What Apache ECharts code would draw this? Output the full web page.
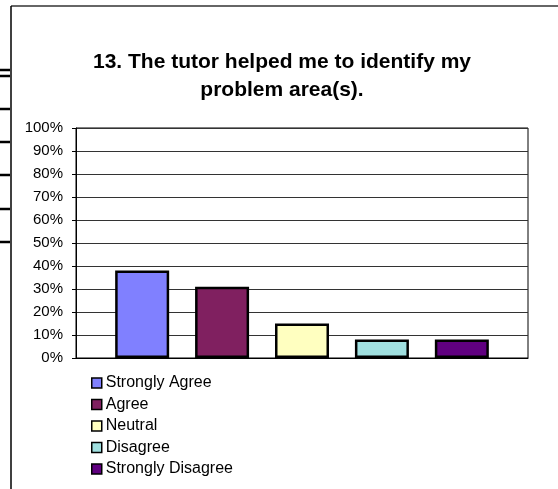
<!DOCTYPE html>
<html>
<head>
<meta charset="utf-8">
<script src="https://cdn.jsdelivr.net/npm/echarts@6/dist/echarts.min.js"></script>
<style>
    html, body { margin: 0; padding: 0; background: #fff; }
    #chart { width: 558px; height: 489px; }
</style>
</head>
<body>
<div id="chart"></div>
<script>
    // survey answers, one bar per answer
    var answers = ['Strongly Agree', 'Agree', 'Neutral', 'Disagree', 'Strongly Disagree'];
    var shares = [0.38, 0.31, 0.15, 0.08, 0.08];
    var colors = ['#8080FF', '#802060', '#FFFFC0', '#A0E0E0', '#600080'];
    var yTicks = [0, 0.1, 0.2, 0.3, 0.4, 0.5, 0.6, 0.7, 0.8, 0.9, 1];

    var myChart = echarts.init(document.getElementById('chart'));

    // leftover table lines on the left edge of the page
    var stubY = [70, 76, 109, 142, 175, 209, 242];
    var graphics = [
        { type: 'line', shape: { x1: 11, y1: 6, x2: 558, y2: 6 }, style: { stroke: '#333', lineWidth: 1.5 } },
        { type: 'line', shape: { x1: 11, y1: 6, x2: 11, y2: 489 }, style: { stroke: '#000', lineWidth: 1.5 } }
    ];
    stubY.forEach(function (y) {
        graphics.push({ type: 'line', shape: { x1: 0, y1: y, x2: 10, y2: y }, style: { stroke: '#000', lineWidth: 2.5 } });
    });

    var series = answers.map(function (name, i) {
        return {
            name: name,
            type: 'bar',
            data: [shares[i]],
            barWidth: 54,
            barGap: '48%',
            itemStyle: { color: colors[i], borderColor: '#000', borderWidth: 2.5 }
        };
    });

    myChart.setOption({
        animation: false,
        backgroundColor: '#fff',
        graphic: graphics,
        title: {
            text: '13. The tutor helped me to identify my\nproblem area(s).',
            left: 282,
            top: 48,
            padding: 0,
            textAlign: 'center',
            textStyle: {
                fontFamily: 'Liberation Sans, Arial, sans-serif',
                fontWeight: 'bold',
                fontSize: 21,
                lineHeight: 28,
                color: '#000'
            }
        },
        grid: {
            left: 76,
            top: 128,
            right: 30,
            bottom: 131,
            show: true,
            borderColor: '#000',
            borderWidth: 1
        },
        legend: {
            orient: 'vertical',
            left: 91,
            top: 375,
            padding: 0,
            itemWidth: 10,
            itemHeight: 10,
            itemGap: 5.5,
            icon: 'rect',
            itemStyle: { borderColor: '#000', borderWidth: 1.5 },
            textStyle: {
                fontFamily: 'Liberation Sans, Arial, sans-serif',
                fontSize: 16,
                lineHeight: 16,
                color: '#000',
                padding: [0, 0, 0, -1]
            },
            data: answers
        },
        xAxis: {
            type: 'category',
            data: [''],
            axisLine: { lineStyle: { color: '#000', width: 1 } },
            axisTick: { show: false },
            axisLabel: { show: false }
        },
        yAxis: {
            type: 'value',
            min: yTicks[0],
            max: yTicks[yTicks.length - 1],
            interval: 0.1,
            axisLine: { show: true, lineStyle: { color: '#000', width: 1 } },
            axisTick: { show: true, length: 4, lineStyle: { color: '#000' } },
            axisLabel: {
                margin: 13,
                fontFamily: 'Liberation Sans, Arial, sans-serif',
                fontSize: 15,
                color: '#000',
                formatter: function (v) { return Math.round(v * 100) + '%'; }
            },
            splitLine: { lineStyle: { color: '#333', width: 1 } }
        },
        series: series
    });
</script>
</body>
</html>
